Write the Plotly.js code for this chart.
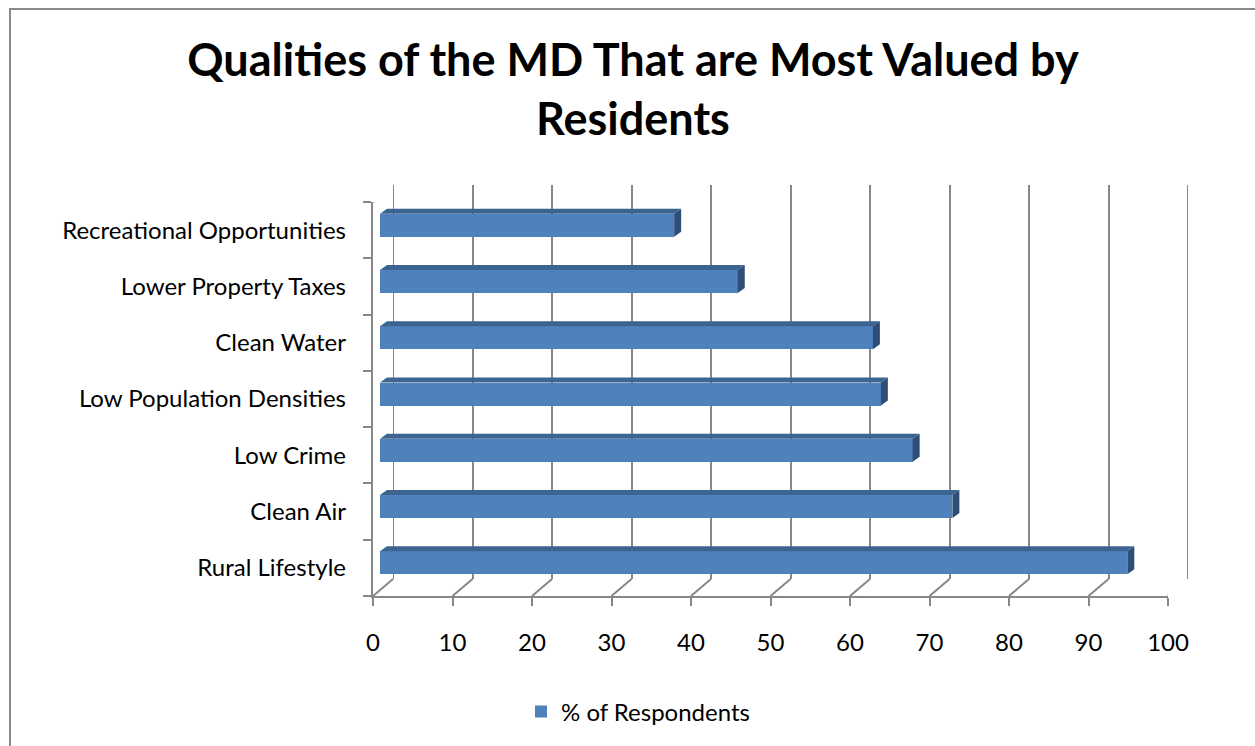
<!DOCTYPE html>
<html>
<head>
<meta charset="utf-8">
<script src="https://cdn.plot.ly/plotly-3.0.1.min.js"></script>
<style>
  html, body { margin: 0; padding: 0; overflow: hidden; background: #fff; }
  #chart { position: absolute; left: 0; top: 0; width: 1255px; height: 746px; }
  #frame { position: absolute; left: 9px; top: 8px; width: 1400px; height: 900px;
           border: 2px solid #8a8a8a; pointer-events: none; }
</style>
</head>
<body>
<div id="chart"></div>
<div id="frame"></div>
<script>
// ---- data (bottom to top) ----
const categories = ["Rural Lifestyle", "Clean Air", "Low Crime", "Low Population Densities",
                    "Clean Water", "Lower Property Taxes", "Recreational Opportunities"];
const values = [94, 72, 67, 63, 62, 45, 37];
const seriesName = "% of Respondents";
const xTickVals = [0, 10, 20, 30, 40, 50, 60, 70, 80, 90, 100];
const titleText = "Qualities of the MD That are Most Valued by<br>Residents";

// ---- geometry (pixels) ----
const W = 1255, H = 746;
const plotL = 373, plotR = 1188, plotT = 185, plotB = 596;
const depthX = 20, depthY = 17;           // back wall offset
const frontTop = 202;                      // top of front left axis
const plotW = plotR - plotL, plotH = plotB - plotT;
const pxPerUnitX = (plotW - depthX) / 100;
const pxPerCat = (plotB - frontTop) / categories.length;

const font = "Lato, 'Open Sans', sans-serif";
const grey = "#878787";
const frontColor = "#4f81bd", topColor = "#3c6491", sideColor = "#2e4e78";

// bar 3D offsets in data units
const barDX = 7 / pxPerUnitX;
const barShift = 5 / pxPerCat;
const halfH = 11.5 / pxPerCat;
const depthDX = 7 / pxPerUnitX, depthDY = 5 / pxPerCat;

const idx = categories.map((c, i) => i);
const yCenters = idx.map(i => i + barShift);

const traces = [];
// back wall subplot placeholder (x / y)
traces.push({type: "scatter", x: [], y: [], xaxis: "x", yaxis: "y", showlegend: false, hoverinfo: "skip"});
// top and side faces (front subplot x2 / y2)
values.forEach((v, i) => {
  const yc = yCenters[i];
  const x0 = barDX, x1 = barDX + v;
  traces.push({
    type: "scatter", mode: "lines", fill: "toself", fillcolor: topColor,
    line: {width: 0}, hoverinfo: "skip", showlegend: false, xaxis: "x2", yaxis: "y2",
    x: [x0, x1, x1 + depthDX, x0 + depthDX, x0],
    y: [yc + halfH, yc + halfH, yc + halfH + depthDY, yc + halfH + depthDY, yc + halfH]
  });
  traces.push({
    type: "scatter", mode: "lines", fill: "toself", fillcolor: sideColor,
    line: {width: 0}, hoverinfo: "skip", showlegend: false, xaxis: "x2", yaxis: "y2",
    x: [x1, x1 + depthDX, x1 + depthDX, x1, x1],
    y: [yc - halfH, yc - halfH + depthDY, yc + halfH + depthDY, yc + halfH, yc - halfH]
  });
});
// front faces
traces.push({
  type: "bar", orientation: "h", name: seriesName, xaxis: "x2", yaxis: "y2",
  x: values, y: yCenters, base: barDX, width: 2 * halfH,
  marker: {color: frontColor, line: {width: 0}},
  hoverinfo: "x"
});
// placeholder for boundary-tick axis
traces.push({type: "scatter", x: [], y: [], xaxis: "x2", yaxis: "y3", showlegend: false, hoverinfo: "skip"});

// floor diagonals + top-left diagonal
const shapes = xTickVals.map(t => ({
  type: "line", xref: "x2", yref: "y2", xsizemode: "pixel", ysizemode: "pixel",
  xanchor: t, yanchor: -0.5, x0: 0, x1: depthX, y0: 0, y1: depthY,
  line: {color: grey, width: 2}, layer: "below"
}));
shapes.push({
  type: "line", xref: "x2", yref: "y2", xsizemode: "pixel", ysizemode: "pixel",
  xanchor: 0, yanchor: categories.length - 0.5, x0: 0, x1: depthX, y0: 0, y1: depthY,
  line: {color: grey, width: 2}, layer: "below"
});
// back wall edge lines (gridlines at the range ends)
[xTickVals[0], xTickVals[xTickVals.length - 1]].forEach(t => shapes.push({
  type: "line", xref: "x", yref: "y", x0: t, x1: t, y0: 0, y1: 1,
  line: {color: grey, width: 2}, layer: "below"
}));

const boundaries = [];
for (let i = 0; i <= categories.length; i++) boundaries.push(i - 0.5);

const layout = {
  width: W, height: H,
  margin: {l: plotL, r: W - plotR, t: plotT, b: H - plotB, pad: 0},
  paper_bgcolor: "#fff", plot_bgcolor: "rgba(0,0,0,0)",
  font: {family: font, color: "#000", size: 24},
  title: {
    text: titleText, x: 633 / W, xanchor: "center", xref: "container",
    yref: "container", y: 1 - 76 / H, yanchor: "top",
    font: {family: font, size: 45, color: "#000", weight: "bold"}
  },
  showlegend: true,
  legend: {
    orientation: "h", x: (638 - plotL) / plotW, xanchor: "center",
    y: (plotB - 712) / plotH, yanchor: "middle",
    font: {family: font, size: 24, color: "#000"}, bgcolor: "rgba(0,0,0,0)"
  },
  // back wall
  xaxis: {
    domain: [depthX / plotW, 1], range: [0, 100], anchor: "y",
    tickvals: xTickVals, showticklabels: false, ticks: "",
    showgrid: true, gridcolor: grey, gridwidth: 2, showline: false, zeroline: false,
    fixedrange: true
  },
  yaxis: {
    domain: [depthY / plotH, 1], range: [0, 1], anchor: "x",
    showticklabels: false, ticks: "", showgrid: false, showline: false, zeroline: false,
    fixedrange: true
  },
  // front
  xaxis2: {
    domain: [0, (plotW - depthX) / plotW], range: [0, 100], anchor: "y2",
    tickvals: xTickVals, ticks: "outside", ticklen: 8, tickwidth: 2, tickcolor: grey,
    showline: true, linecolor: grey, linewidth: 2, showgrid: false, zeroline: false,
    ticklabelstandoff: 16, tickfont: {family: font, size: 24, color: "#000"},
    fixedrange: true
  },
  yaxis2: {
    domain: [0, (plotB - frontTop) / plotH], range: [-0.5, categories.length - 0.5],
    anchor: "x2", tickvals: idx, ticktext: categories, ticks: "", showline: false,
    showgrid: false, zeroline: false, ticklabelstandoff: 26,
    tickfont: {family: font, size: 24, color: "#000"}, fixedrange: true
  },
  yaxis3: {
    overlaying: "y2", anchor: "x2", side: "left",
    range: [-0.5, categories.length - 0.5], tickvals: boundaries,
    ticks: "outside", ticklen: 8, tickwidth: 2, tickcolor: grey,
    showticklabels: false, showline: true, linecolor: grey, linewidth: 2,
    showgrid: false, zeroline: false, fixedrange: true
  },
  shapes: shapes,
  bargap: 0
};

Plotly.newPlot("chart", traces, layout, {displayModeBar: false, staticPlot: true});
</script>
</body>
</html>
